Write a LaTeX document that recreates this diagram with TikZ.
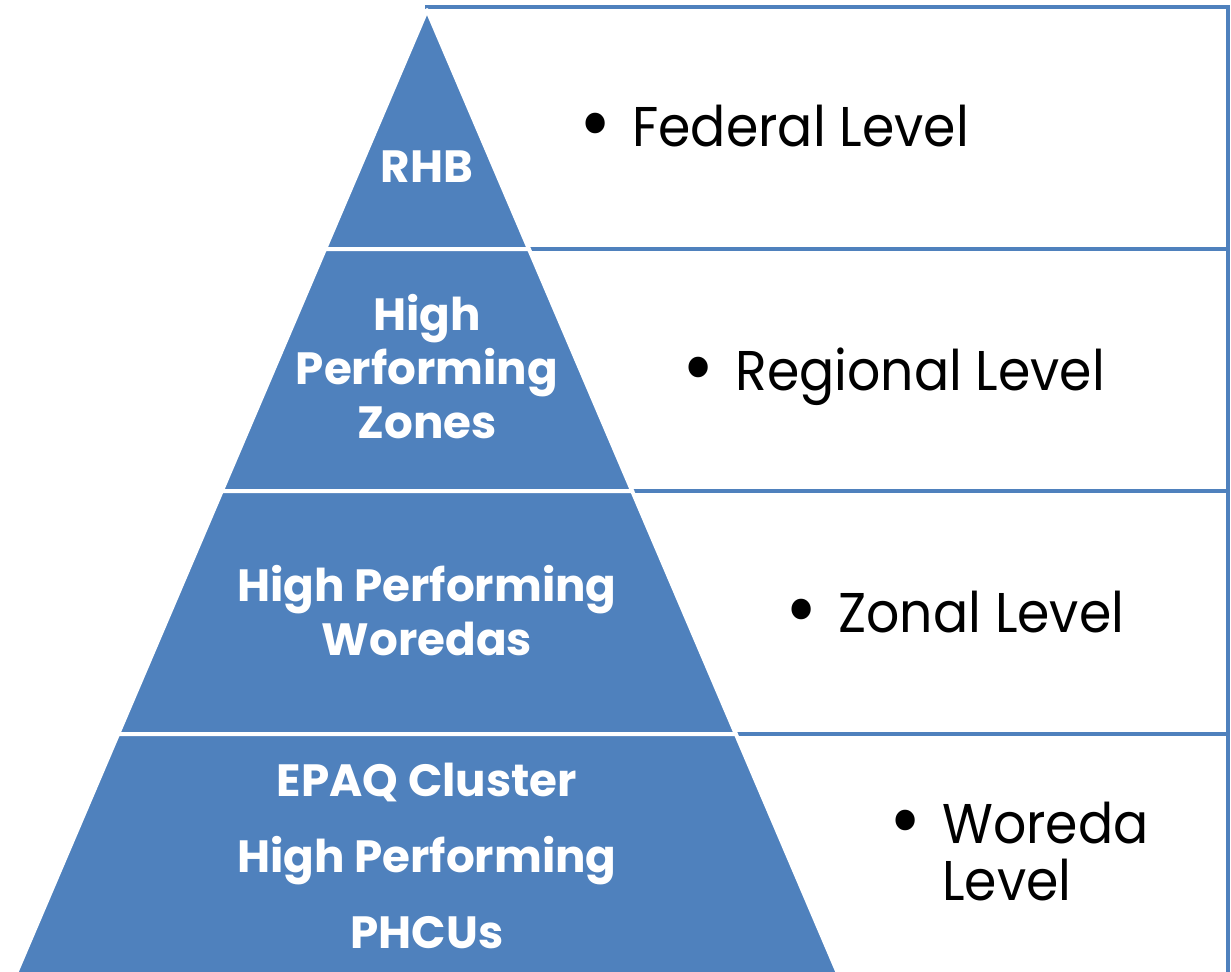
\documentclass[tikz,border=0pt]{standalone}
\usepackage{fontspec}
\usepackage{graphicx}
\setmainfont{Poppins}
\newfontfamily\levelfont[FakeStretch=0.93]{Poppins}
\definecolor{pyrblue}{HTML}{4F81BD}
\newcommand{\lvlbullet}{\makebox[23.5pt][l]{\hspace*{-3pt}\raisebox{-2.5pt}{\scalebox{1.5}{\textbullet}}}}

\begin{document}
\begin{tikzpicture}[x=0.5pt,y=-0.5pt,
  my band/.style={fill=pyrblue,draw=white,line width=2pt,line join=round},
  my box/.style={draw=pyrblue,line width=2.4pt,fill=white},
  my label/.style={anchor=base,inner sep=0pt,text=white,font=\fontsize{22.6}{27}\selectfont\bfseries},
  my level/.style={anchor=base west,inner sep=0pt,font=\levelfont\fontsize{28}{27}\selectfont}]
  \useasboundingbox (0,0) rectangle (1231,971);
  % BOXES
  \foreach \t/\b in {7/249,249/491,491/734,734/990}
    \draw[my box] (427,\t) rectangle (1228,\b);
  % PYRAMID
  \foreach \t/\b in {10/249,249/491,491/734,734/976}
    \path[my band] ({427-0.4266*(\t-10)},\t) -- ({427+0.4266*(\t-10)},\t)
      -- ({427+0.4266*(\b-10)},\b) -- ({427-0.4266*(\b-10)},\b) -- cycle;
  % LABELS
  \node[my label] (rhb) at (427,182) {RHB};
  \node[my label] (zones) at (427,330)
    {\begin{tabular}[t]{@{}c@{}}High\\Performing\\Zones\end{tabular}};
  \node[my label] (woredas) at (427,601)
    {\begin{tabular}[t]{@{}c@{}}High Performing\\Woredas\end{tabular}};
  \node[my label] (phcus) at (427,796)
    {\begin{tabular}[t]{@{}c@{}}EPAQ Cluster\\[11pt]High Performing\\[11pt]PHCUs\end{tabular}};
  % LEVELS
  \node[my level] (federal) at (585,146) {\lvlbullet Federal Level};
  \node[my level] (regional) at (688,390) {\lvlbullet Regional Level};
  \node[my level] (zonal) at (791,632) {\lvlbullet Zonal Level};
  \node[my level] (woreda) at (895,843)
    {\begin{tabular}[t]{@{}l@{}l@{}}\lvlbullet&Woreda\\&Level\end{tabular}};
\end{tikzpicture}
\end{document}
